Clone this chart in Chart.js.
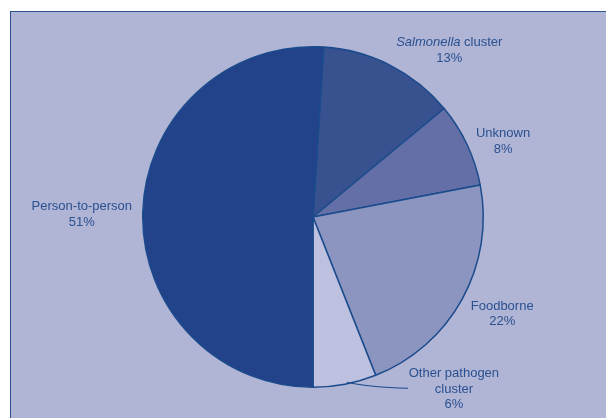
<!DOCTYPE html>
<html>
<head>
<meta charset="utf-8">
<script src="https://cdn.jsdelivr.net/npm/chart.js@4.4.1/dist/chart.umd.min.js"></script>
<style>
  html, body { margin: 0; padding: 0; background: #ffffff; }
  #wrap { position: relative; width: 606px; height: 418px; overflow: hidden; }
  #frame {
    position: absolute; left: 10px; top: 11px; width: 620px; height: 430px;
    background: #b0b4d5; border-left: 1.5px solid #2a5190; border-top: 1.5px solid #2a5190;
  }
  #miGrafico { position: absolute; left: 0; top: 0; }
</style>
</head>
<body>
<div id="wrap">
  <div id="frame"></div>
  <canvas id="miGrafico" width="606" height="418"></canvas>
</div>
<script>
// outbreak causes, clockwise from the top
const labels = ['Salmonella cluster', 'Unknown', 'Foodborne', 'Other pathogen\ncluster', 'Person-to-person'];
const valores = [13, 8, 22, 6, 51];
const colores = ['#38518f', '#636fa6', '#8b95c0', '#bdc1df', '#22428a'];
const cursiva = ['Salmonella'];
// label offsets from the slice's outer edge point (px)
const desfase = [[59, -15], [36, -3], [40, 15], [109, 5], [-61, 3]];

const fuente = '13px "Liberation Sans", Arial, sans-serif';
const fuenteItal = 'italic 13px "Liberation Sans", Arial, sans-serif';

const etiquetas = {
    id: 'etiquetas',
    afterDatasetsDraw(chart) {
        const ctx = chart.ctx;
        const meta = chart.getDatasetMeta(0);
        ctx.save();
        ctx.fillStyle = '#2a5190';
        ctx.textBaseline = 'middle';
        meta.data.forEach((arc, i) => {
            const p = arc.getProps(['x', 'y', 'startAngle', 'endAngle', 'outerRadius'], true);
            const mid = (p.startAngle + p.endAngle) / 2;
            const ex = p.x + Math.cos(mid) * p.outerRadius;
            const ey = p.y + Math.sin(mid) * p.outerRadius;
            const cx = ex + desfase[i][0];
            const cy = ey + desfase[i][1];
            const lineas = labels[i].split('\n');
            lineas.push(valores[i] + '%');
            const alto = 15.5;
            const y0 = cy - (lineas.length - 1) * alto / 2;
            lineas.forEach((linea, j) => {
                // split into italic / normal pieces
                const partes = [];
                let resto = linea;
                cursiva.forEach(w => {
                    if (resto.startsWith(w)) {
                        partes.push([w, true]);
                        resto = resto.slice(w.length);
                    }
                });
                if (resto) partes.push([resto, false]);
                let total = 0;
                partes.forEach(pt => { ctx.font = pt[1] ? fuenteItal : fuente; total += ctx.measureText(pt[0]).width; });
                let x = cx - total / 2;
                ctx.textAlign = 'left';
                partes.forEach(pt => {
                    ctx.font = pt[1] ? fuenteItal : fuente;
                    ctx.fillText(pt[0], x, y0 + j * alto);
                    x += ctx.measureText(pt[0]).width;
                });
            });
            // leader line for the small slice
            if (labels[i].indexOf('\n') >= 0) {
                ctx.strokeStyle = '#1b4b8c';
                ctx.lineWidth = 1.2;
                ctx.beginPath();
                ctx.moveTo(ex + 2, ey - 2);
                ctx.quadraticCurveTo(ex + 25, ey + 3, ex + 63, ey + 4);
                ctx.stroke();
            }
        });
        ctx.restore();
    }
};

const grafico = new Chart(document.getElementById('miGrafico'), {
    type: 'pie',
    data: {
        labels: labels,
        datasets: [{
            data: valores,
            backgroundColor: colores,
            borderColor: '#1b4b8c',
            borderWidth: 1.5
        }]
    },
    options: {
        responsive: false,
        animation: false,
        rotation: 3.6,
        layout: { padding: { left: 20, right: 0, top: 46, bottom: 30 } },
        plugins: {
            legend: { display: false },
            tooltip: { enabled: false }
        }
    },
    plugins: [etiquetas]
});
</script>
</body>
</html>
